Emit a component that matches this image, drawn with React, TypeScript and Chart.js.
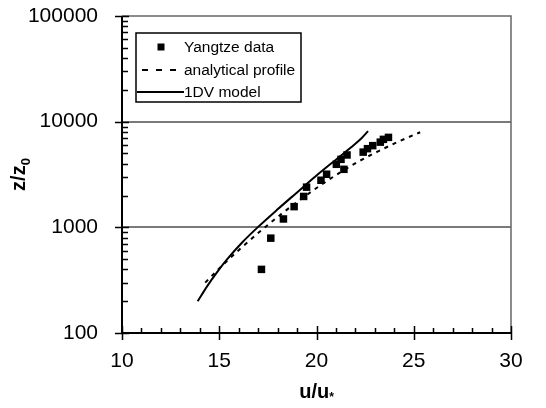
import React, { useEffect, useRef } from 'react';
import { Chart, registerables } from 'chart.js';
Chart.register(...registerables);

const yangtzeU = [17.17, 17.65, 18.3, 18.85, 19.34, 19.49, 20.23, 20.52, 21.02, 21.26, 21.41, 21.57, 22.4, 22.62, 22.89, 23.28, 23.44, 23.7];
const yangtzeZ = [400, 790, 1200, 1570, 1960, 2400, 2790, 3180, 3950, 4400, 3540, 4840, 5150, 5550, 5930, 6400, 6800, 7100];

const analyticalU = [14.28, 15.2, 16.2, 17.2, 18.2, 19.2, 20.2, 21.2, 22.2, 23.2, 24.2, 25.33];
const analyticalZ = [300, 444, 656, 948, 1340, 1849, 2495, 3289, 4236, 5272, 6457, 7943];

const modelU = [13.89, 14.4, 14.9, 15.4, 16.2, 17.0, 18.0, 19.0, 20.0, 21.0, 21.8, 22.3, 22.65];
const modelZ = [200, 281, 379, 497, 726, 1010, 1480, 2140, 3090, 4370, 5750, 6920, 8130];

const xTicks = [10, 15, 20, 25, 30];
const yTicks = [100, 1000, 10000, 100000];
const gridValues = [1000, 10000];

const FONT = "'Liberation Sans', Arial, sans-serif";

const toPts = (xs: number[], ys: number[]) => xs.map((x, i) => ({ x, y: ys[i] }));

const decorPlugin = {
  id: 'decor',
  beforeDatasetsDraw(chart: any) {
    const { ctx, chartArea: a, scales } = chart;
    const y = scales.y;
    ctx.save();
    ctx.strokeStyle = '#7a7a7a';
    ctx.lineWidth = 2;
    for (const v of gridValues) {
      const py = Math.round(y.getPixelForValue(v));
      ctx.beginPath();
      ctx.moveTo(a.left, py);
      ctx.lineTo(a.right, py);
      ctx.stroke();
    }
    ctx.lineWidth = 1.5;
    ctx.strokeStyle = '#666';
    ctx.beginPath();
    ctx.moveTo(a.left, a.top);
    ctx.lineTo(a.right, a.top);
    ctx.lineTo(a.right, a.bottom);
    ctx.stroke();
    ctx.restore();
  },
  afterDatasetsDraw(chart: any) {
    const { ctx, chartArea: a, scales } = chart;
    const x = scales.x;
    const y = scales.y;
    ctx.save();
    ctx.strokeStyle = '#000';
    ctx.lineWidth = 2;
    ctx.beginPath();
    ctx.moveTo(a.left, a.top);
    ctx.lineTo(a.left, a.bottom);
    ctx.lineTo(a.right, a.bottom);
    ctx.stroke();
    ctx.lineWidth = 1.5;
    ctx.beginPath();
    for (let d = 2; d <= 5; d++) {
      const base = Math.pow(10, d);
      const py = Math.round(y.getPixelForValue(base)) + 0.5;
      ctx.moveTo(a.left - 7, py);
      ctx.lineTo(a.left + 7, py);
      if (d < 5) {
        for (let k = 2; k <= 9; k++) {
          const p = Math.round(y.getPixelForValue(k * base)) + 0.5;
          ctx.moveTo(a.left, p);
          ctx.lineTo(a.left + 6, p);
        }
      }
    }
    for (let v = 10; v <= 30; v++) {
      const px = Math.round(x.getPixelForValue(v)) + 0.5;
      if (v % 5 === 0) {
        ctx.moveTo(px, a.bottom - 7);
        ctx.lineTo(px, a.bottom + 7);
      } else {
        ctx.moveTo(px, a.bottom - 5);
        ctx.lineTo(px, a.bottom);
      }
    }
    ctx.stroke();

    // legend
    const ds = chart.data.datasets;
    const lx = 136, ly = 33, lw = 165, lh = 69;
    ctx.fillStyle = '#fff';
    ctx.fillRect(lx, ly, lw, lh);
    ctx.strokeStyle = '#000';
    ctx.lineWidth = 1.5;
    ctx.strokeRect(lx, ly, lw, lh);
    const rows = [47, 70, 92];
    ctx.fillStyle = '#000';
    ctx.fillRect(157.5, rows[0] - 3.5, 7, 7);
    ctx.lineWidth = 2;
    ctx.setLineDash([6, 8]);
    ctx.beginPath();
    ctx.moveTo(142, rows[1]);
    ctx.lineTo(176, rows[1]);
    ctx.stroke();
    ctx.setLineDash([]);
    ctx.beginPath();
    ctx.moveTo(137, rows[2]);
    ctx.lineTo(184, rows[2]);
    ctx.stroke();
    ctx.font = `15.5px ${FONT}`;
    ctx.textBaseline = 'middle';
    ctx.textAlign = 'left';
    ds.forEach((d: any, i: number) => ctx.fillText(d.label, 184, rows[i] + 1));

    // axis titles
    ctx.font = `bold 20px ${FONT}`;
    ctx.textBaseline = 'alphabetic';
    const main = 'u/u';
    const mw = ctx.measureText(main).width;
    ctx.font = `bold 12px ${FONT}`;
    const sw = ctx.measureText('*').width;
    const cx = (a.left + a.right) / 2;
    const sx = cx - (mw + sw) / 2;
    ctx.font = `bold 20px ${FONT}`;
    ctx.fillText(main, sx, 398);
    ctx.font = `bold 12px ${FONT}`;
    ctx.fillText('*', sx + mw, 401);

    ctx.save();
    ctx.translate(25, (a.top + a.bottom) / 2);
    ctx.rotate(-Math.PI / 2);
    ctx.font = `bold 20px ${FONT}`;
    const zw = ctx.measureText('z/z').width;
    ctx.font = `bold 13px ${FONT}`;
    const z0w = ctx.measureText('0').width;
    const zx = -(zw + z0w) / 2;
    ctx.font = `bold 20px ${FONT}`;
    ctx.fillText('z/z', zx, 0);
    ctx.font = `bold 13px ${FONT}`;
    ctx.fillText('0', zx + zw, 5);
    ctx.restore();
    ctx.restore();
  },
};

export default function App() {
  const ref = useRef<HTMLCanvasElement>(null);
  useEffect(() => {
    document.body.style.margin = '0';
    const chart = new Chart(ref.current!, {
      type: 'scatter',
      data: {
        datasets: [
          {
            label: 'Yangtze data',
            data: toPts(yangtzeU, yangtzeZ),
            pointStyle: 'rect',
            pointRadius: 5.3,
            backgroundColor: '#000',
            borderColor: '#000',
            borderWidth: 0,
            showLine: false,
          },
          {
            label: 'analytical profile',
            data: toPts(analyticalU, analyticalZ),
            showLine: true,
            pointRadius: 0,
            borderColor: '#000',
            borderWidth: 2,
            borderDash: [4, 5],
            cubicInterpolationMode: 'monotone',
          },
          {
            label: '1DV model',
            data: toPts(modelU, modelZ),
            showLine: true,
            pointRadius: 0,
            borderColor: '#000',
            borderWidth: 2,
            cubicInterpolationMode: 'monotone',
          },
        ],
      } as any,
      options: {
        animation: false,
        responsive: false,
        layout: { padding: { top: 16, right: 35, left: 0, bottom: 0 } },
        plugins: { legend: { display: false }, tooltip: { enabled: false } },
        scales: {
          x: {
            type: 'linear',
            min: 10,
            max: 30,
            grid: { display: false },
            border: { display: false },
            afterBuildTicks: (s: any) => { s.ticks = xTicks.map((v) => ({ value: v })); },
            afterFit: (s: any) => { s.height = 75; s.paddingLeft = 0; s.paddingRight = 0; },
            ticks: {
              padding: 8,
              color: '#000',
              font: { family: FONT, size: 21 },
              maxRotation: 0,
              autoSkip: false,
            },
          },
          y: {
            type: 'logarithmic',
            min: 100,
            max: 100000,
            grid: { display: false },
            border: { display: false },
            afterBuildTicks: (s: any) => { s.ticks = yTicks.map((v) => ({ value: v, major: true })); },
            afterFit: (s: any) => { s.width = 122; s.paddingTop = 0; s.paddingBottom = 0; },
            ticks: {
              padding: 16,
              color: '#000',
              font: { family: FONT, size: 21 },
              autoSkip: false,
              callback: (v: any) => String(v),
            },
          },
        },
      },
      plugins: [decorPlugin],
    });
    return () => chart.destroy();
  }, []);
  return <canvas ref={ref} width={546} height={408} style={{ display: 'block' }} />;
}
